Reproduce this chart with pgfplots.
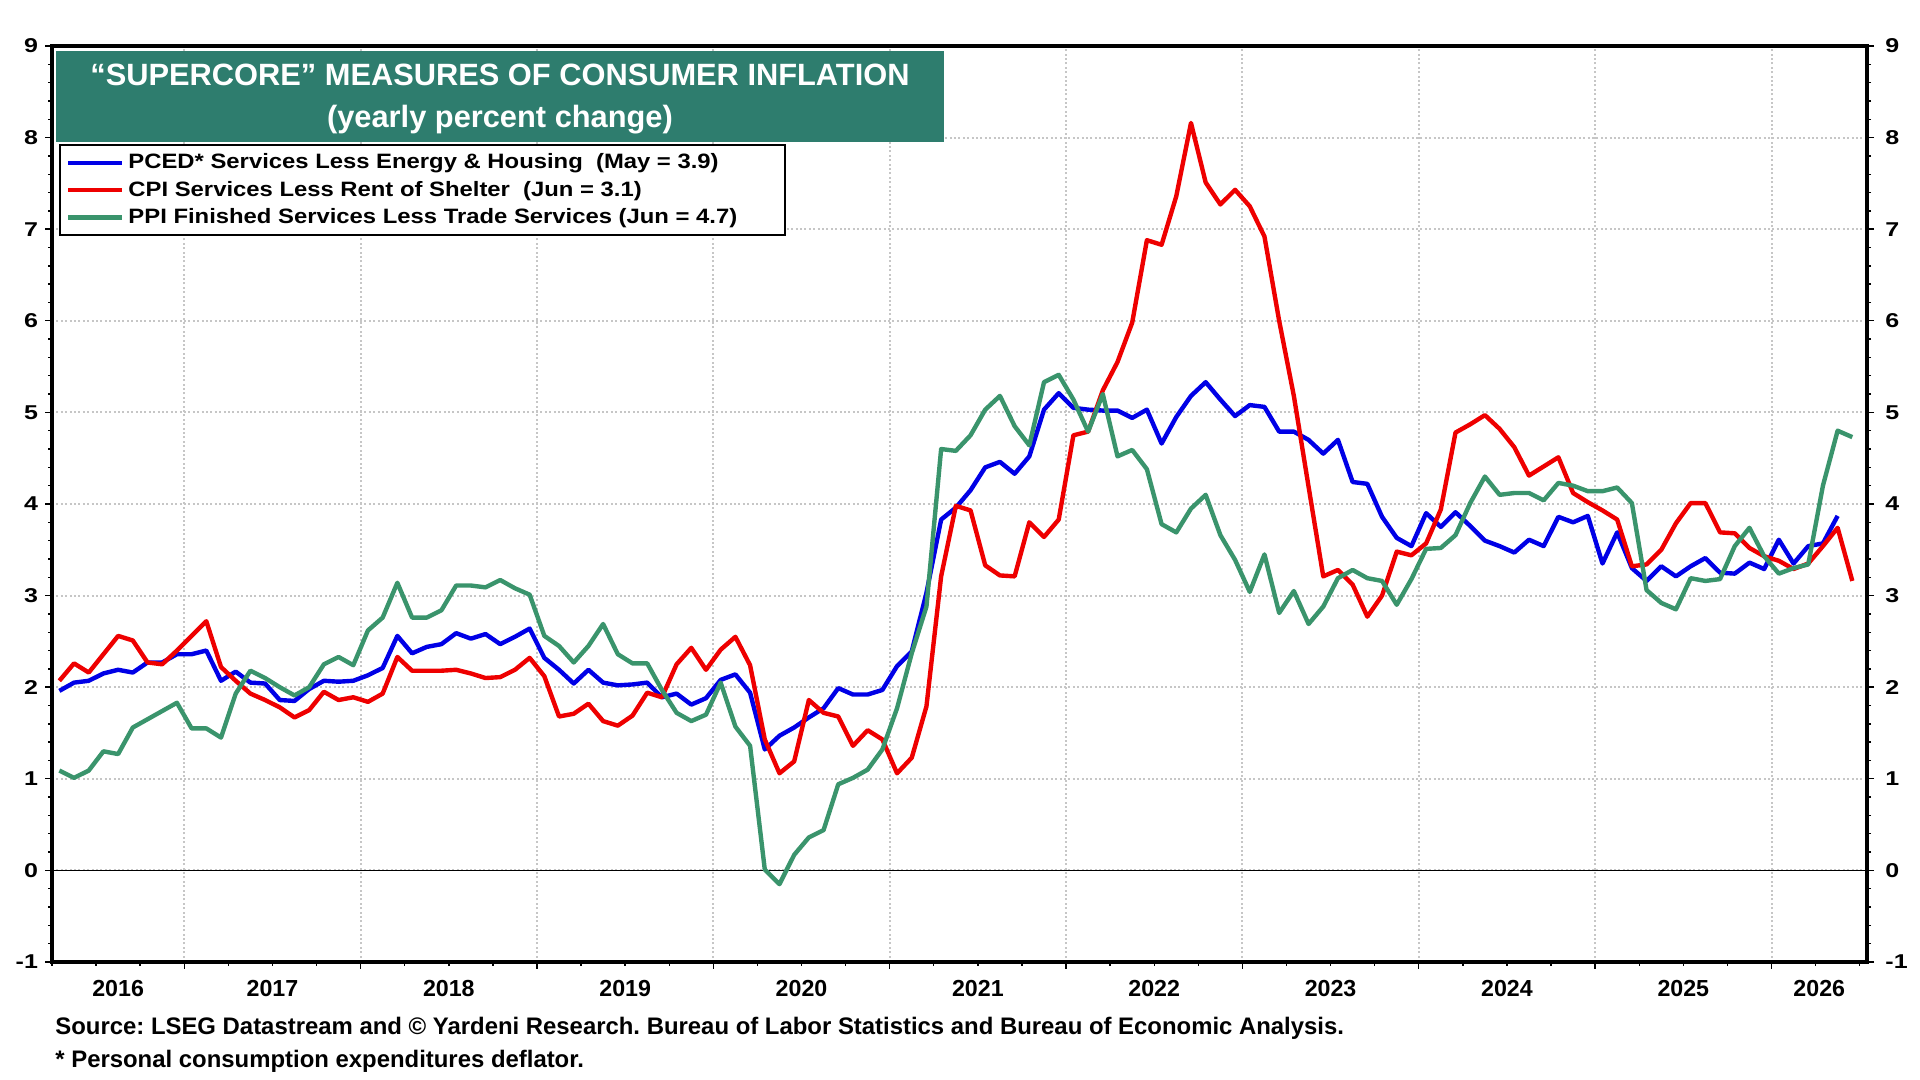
\documentclass[border=0pt]{standalone}
\usepackage{fontspec}
\setmainfont{Liberation Sans}
\usepackage{graphicx}
\usepackage{pgfplots}
\usepackage{pgfplotstable}
\pgfplotsset{compat=1.18}
\definecolor{pblue}{RGB}{0,0,230}
\definecolor{pred}{RGB}{238,0,0}
\definecolor{pgreen}{RGB}{58,148,108}
\definecolor{titlebox}{RGB}{46,125,110}
\newcommand{\yl}[1]{\scalebox{1.25}[1]{#1}}
\newcommand{\legtxt}[1]{\scalebox{1.146}[1]{#1}}
\frenchspacing

\pgfplotstableread{
m v
3.5 1.96
4.5 2.05
5.5 2.07
6.5 2.15
7.5 2.19
8.5 2.16
9.5 2.27
10.5 2.27
11.5 2.36
12.5 2.36
13.5 2.40
14.5 2.07
15.5 2.17
16.5 2.05
17.5 2.04
18.5 1.86
19.5 1.85
20.5 1.98
21.5 2.07
22.5 2.06
23.5 2.07
24.5 2.13
25.5 2.21
26.5 2.56
27.5 2.37
28.5 2.44
29.5 2.47
30.5 2.59
31.5 2.53
32.5 2.58
33.5 2.47
34.5 2.55
35.5 2.64
36.5 2.32
37.5 2.19
38.5 2.04
39.5 2.19
40.5 2.05
41.5 2.02
42.5 2.03
43.5 2.05
44.5 1.89
45.5 1.93
46.5 1.81
47.5 1.88
48.5 2.08
49.5 2.14
50.5 1.94
51.5 1.32
52.5 1.47
53.5 1.56
54.5 1.67
55.5 1.77
56.5 1.99
57.5 1.92
58.5 1.92
59.5 1.97
60.5 2.23
61.5 2.39
62.5 3.03
63.5 3.83
64.5 3.96
65.5 4.15
66.5 4.40
67.5 4.46
68.5 4.33
69.5 4.52
70.5 5.03
71.5 5.21
72.5 5.05
73.5 5.03
74.5 5.02
75.5 5.02
76.5 4.94
77.5 5.03
78.5 4.66
79.5 4.95
80.5 5.18
81.5 5.33
82.5 5.14
83.5 4.96
84.5 5.08
85.5 5.06
86.5 4.79
87.5 4.79
88.5 4.70
89.5 4.55
90.5 4.70
91.5 4.24
92.5 4.22
93.5 3.86
94.5 3.63
95.5 3.54
96.5 3.90
97.5 3.75
98.5 3.91
99.5 3.76
100.5 3.60
101.5 3.54
102.5 3.47
103.5 3.61
104.5 3.54
105.5 3.86
106.5 3.80
107.5 3.87
108.5 3.35
109.5 3.69
110.5 3.30
111.5 3.16
112.5 3.32
113.5 3.21
114.5 3.32
115.5 3.41
116.5 3.25
117.5 3.24
118.5 3.36
119.5 3.29
120.5 3.61
121.5 3.35
122.5 3.54
123.5 3.57
124.5 3.87
}\pced

\pgfplotstableread{
m v
3.5 2.07
4.5 2.26
5.5 2.16
6.5 2.36
7.5 2.56
8.5 2.51
9.5 2.27
10.5 2.25
11.5 2.40
12.5 2.56
13.5 2.72
14.5 2.22
15.5 2.07
16.5 1.93
17.5 1.86
18.5 1.78
19.5 1.67
20.5 1.75
21.5 1.95
22.5 1.86
23.5 1.89
24.5 1.84
25.5 1.93
26.5 2.33
27.5 2.18
28.5 2.18
29.5 2.18
30.5 2.19
31.5 2.15
32.5 2.10
33.5 2.11
34.5 2.19
35.5 2.32
36.5 2.12
37.5 1.68
38.5 1.71
39.5 1.82
40.5 1.63
41.5 1.58
42.5 1.69
43.5 1.94
44.5 1.89
45.5 2.25
46.5 2.43
47.5 2.19
48.5 2.41
49.5 2.55
50.5 2.24
51.5 1.43
52.5 1.06
53.5 1.19
54.5 1.86
55.5 1.72
56.5 1.68
57.5 1.36
58.5 1.53
59.5 1.43
60.5 1.06
61.5 1.23
62.5 1.79
63.5 3.21
64.5 3.98
65.5 3.93
66.5 3.33
67.5 3.22
68.5 3.21
69.5 3.80
70.5 3.64
71.5 3.83
72.5 4.75
73.5 4.79
74.5 5.24
75.5 5.55
76.5 5.98
77.5 6.88
78.5 6.83
79.5 7.36
80.5 8.16
81.5 7.51
82.5 7.27
83.5 7.43
84.5 7.25
85.5 6.92
86.5 6.00
87.5 5.18
88.5 4.19
89.5 3.21
90.5 3.28
91.5 3.12
92.5 2.77
93.5 3.00
94.5 3.48
95.5 3.44
96.5 3.57
97.5 3.94
98.5 4.78
99.5 4.87
100.5 4.97
101.5 4.82
102.5 4.62
103.5 4.31
104.5 4.41
105.5 4.51
106.5 4.12
107.5 4.02
108.5 3.93
109.5 3.83
110.5 3.32
111.5 3.34
112.5 3.50
113.5 3.79
114.5 4.01
115.5 4.01
116.5 3.69
117.5 3.68
118.5 3.52
119.5 3.43
120.5 3.38
121.5 3.29
122.5 3.35
123.5 3.54
124.5 3.74
125.5 3.16
}\cpi

\pgfplotstableread{
m v
3.5 1.09
4.5 1.01
5.5 1.09
6.5 1.30
7.5 1.27
8.5 1.56
9.5 1.65
10.5 1.74
11.5 1.83
12.5 1.55
13.5 1.55
14.5 1.45
15.5 1.93
16.5 2.18
17.5 2.10
18.5 2.00
19.5 1.91
20.5 2.00
21.5 2.25
22.5 2.33
23.5 2.24
24.5 2.62
25.5 2.76
26.5 3.14
27.5 2.76
28.5 2.76
29.5 2.84
30.5 3.11
31.5 3.11
32.5 3.09
33.5 3.17
34.5 3.08
35.5 3.01
36.5 2.56
37.5 2.45
38.5 2.27
39.5 2.45
40.5 2.69
41.5 2.36
42.5 2.26
43.5 2.26
44.5 1.97
45.5 1.72
46.5 1.63
47.5 1.70
48.5 2.05
49.5 1.57
50.5 1.36
51.5 0.01
52.5 -0.15
53.5 0.17
54.5 0.36
55.5 0.44
56.5 0.94
57.5 1.01
58.5 1.10
59.5 1.32
60.5 1.77
61.5 2.37
62.5 2.88
63.5 4.60
64.5 4.58
65.5 4.75
66.5 5.03
67.5 5.18
68.5 4.85
69.5 4.64
70.5 5.33
71.5 5.41
72.5 5.14
73.5 4.79
74.5 5.20
75.5 4.52
76.5 4.59
77.5 4.38
78.5 3.78
79.5 3.69
80.5 3.95
81.5 4.10
82.5 3.66
83.5 3.39
84.5 3.04
85.5 3.45
86.5 2.81
87.5 3.05
88.5 2.69
89.5 2.88
90.5 3.19
91.5 3.28
92.5 3.19
93.5 3.16
94.5 2.90
95.5 3.18
96.5 3.51
97.5 3.52
98.5 3.66
99.5 4.01
100.5 4.30
101.5 4.10
102.5 4.12
103.5 4.12
104.5 4.04
105.5 4.23
106.5 4.20
107.5 4.14
108.5 4.14
109.5 4.18
110.5 4.01
111.5 3.06
112.5 2.92
113.5 2.85
114.5 3.19
115.5 3.16
116.5 3.18
117.5 3.54
118.5 3.74
119.5 3.43
120.5 3.24
121.5 3.30
122.5 3.34
123.5 4.20
124.5 4.80
125.5 4.73
}\ppi

\begin{document}
\begin{tikzpicture}
\useasboundingbox (0,0) rectangle (960pt,540pt);
\begin{axis}[
  at={(26pt,59pt)}, anchor=south west,
  scale only axis, width=907.5pt, height=458pt,
  xmin=3, xmax=126.5, ymin=-1, ymax=9,
  axis line style={line width=2pt},
  tick align=outside,
  xtick pos=bottom, ytick pos=both,
  xtick={12,24,...,120},
  xticklabels={},
  minor xtick={3,6,...,126},
  extra x ticks={7.5,18,30,42,54,66,78,90,102,114,123.25},
  extra x tick labels={2016,2017,2018,2019,2020,2021,2022,2023,2024,2025,2026},
  extra x tick style={major tick length=0pt, grid=none},
  ytick={-1,0,...,9},
  yticklabels={\yl{-1},\yl{0},\yl{1},\yl{2},\yl{3},\yl{4},\yl{5},\yl{6},\yl{7},\yl{8},\yl{9}},
  minor y tick num=4,
  major tick length=3.5pt, minor tick length=2pt,
  every tick/.style={black, line width=0.7pt},
  xmajorgrids, ymajorgrids,
  major grid style={gray!45, line width=1pt, dash pattern=on 1pt off 1.2pt},
  yticklabel style={font=\fontsize{10}{11}\selectfont\bfseries},
  xticklabel style={font=\fontsize{11.6}{12}\selectfont\bfseries, yshift=-5.5pt},
  legend cell align=left,
  legend style={at={(0.0039,0.8925)}, anchor=north west, draw=black, line width=1pt,
    fill=white, font=\fontsize{10.4}{12}\selectfont\bfseries,
    inner xsep=3pt, inner ysep=2.2pt, row sep=0.6pt},
  legend image code/.code={\draw[#1] (0pt,0pt) -- (27pt,0pt);},
]
\addplot[black, line width=0.6pt, forget plot] coordinates {(3,0) (126.5,0)};
\addplot[pblue, line width=2.2pt, line join=round] table {\pced};
\addlegendentry{\legtxt{PCED* Services Less Energy \& Housing\ \ (May = 3.9)}}
\addplot[pred, line width=2.2pt, line join=round] table {\cpi};
\addlegendentry{\legtxt{CPI Services Less Rent of Shelter\ \ (Jun = 3.1)}}
\addplot[pgreen, line width=2.2pt, line join=round] table {\ppi};
\addlegendentry{\legtxt{PPI Finished Services Less Trade Services (Jun = 4.7)}\hspace*{19pt}}
\end{axis}
\begin{axis}[
  at={(26pt,59pt)}, anchor=south west,
  scale only axis, width=907.5pt, height=458pt,
  xmin=3, xmax=126.5, ymin=-1, ymax=9,
  hide x axis, axis y line*=right,
  y axis line style={draw=none},
  ytick={-1,0,...,9},
  yticklabels={\yl{-1},\yl{0},\yl{1},\yl{2},\yl{3},\yl{4},\yl{5},\yl{6},\yl{7},\yl{8},\yl{9}},
  major tick length=0pt, minor y tick num=0,
  tick label style={font=\fontsize{10}{11}\selectfont\bfseries},
  yticklabel style={font=\fontsize{10}{11}\selectfont\bfseries, anchor=west, inner sep=0pt, xshift=9pt},
]
\end{axis}
\fill[titlebox] (28pt,469pt) rectangle (472pt,514.5pt);
\node[text=white, font=\fontsize{15.4}{17}\selectfont\bfseries] at (250pt,502.5pt) {“SUPERCORE” MEASURES OF CONSUMER INFLATION};
\node[text=white, font=\fontsize{15.4}{17}\selectfont\bfseries] at (250pt,480pt) {(yearly percent change)};
\node[anchor=base west, font=\fontsize{11.95}{13}\selectfont\bfseries, inner sep=0pt] at (27.5pt,22.5pt) {Source: LSEG Datastream and © Yardeni Research. Bureau of Labor Statistics and Bureau of Economic Analysis.};
\node[anchor=base west, font=\fontsize{11.95}{13}\selectfont\bfseries, inner sep=0pt] at (27.5pt,6pt) {* Personal consumption expenditures deflator.};
\end{tikzpicture}
\end{document}
